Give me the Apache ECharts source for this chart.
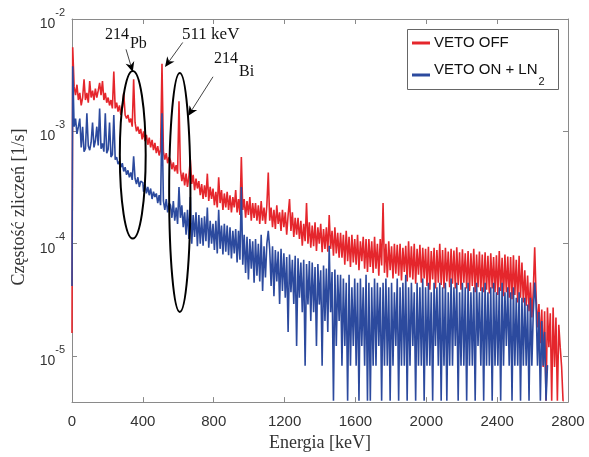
<!DOCTYPE html>
<html><head><meta charset="utf-8">
<script src="https://cdn.jsdelivr.net/npm/echarts@6/dist/echarts.min.js"></script>
<style>html,body{margin:0;padding:0;background:#fff}#c{width:589px;height:457px}</style>
</head><body><div id="c"></div>
<script>
// ---- data (rates in 1/s, one value per 8 keV bin starting at 0 keV) ----
const binWidthKeV = 8;
const seriesNames = ['VETO OFF', 'VETO ON + LN2'];

const vetoOffRate = [
1.6e-5,5.6e-3,2.5e-3,2.1e-3,2.6e-3,1.9e-3,2.2e-3,1.7e-3,2.0e-3,2.9e-3,
1.9e-3,2.2e-3,1.8e-3,2.8e-3,2.0e-3,2.3e-3,1.9e-3,2.4e-3,2.0e-3,2.3e-3,
2.7e-3,2.1e-3,2.8e-3,1.9e-3,2.2e-3,1.8e-3,2.0e-3,1.7e-3,1.9e-3,1.6e-3,
3.4e-3,1.6e-3,1.8e-3,1.5e-3,1.7e-3,1.4e-3,1.6e-3,2.2e-3,1.4e-3,1.3e-3,
1.4e-3,1.2e-3,1.3e-3,1.1e-3,2.9e-3,1.2e-3,1.0e-3,1.1e-3,9.5e-4,1.05e-3,
8.5e-4,1.0e-3,8.2e-4,9.3e-4,7.6e-4,8.8e-4,7.2e-4,8.4e-4,6.8e-4,7.9e-4,
6.4e-4,7.4e-4,6.1e-4,6.9e-4,4.0e-3,6.6e-4,5.6e-4,6.4e-4,5.2e-4,5.9e-4,
5.5e-4,4.6e-4,5.3e-4,4.4e-4,5.0e-4,4.2e-4,1.85e-3,4.6e-4,3.6e-4,4.3e-4,
3.3e-4,4.2e-4,3.2e-4,4.0e-4,5.6e-4,3.4e-4,4.1e-4,3.0e-4,3.8e-4,3.1e-4,
3.6e-4,2.7e-4,3.4e-4,2.5e-4,3.3e-4,2.6e-4,4.2e-4,2.4e-4,3.2e-4,2.5e-4,
3.1e-4,2.2e-4,2.9e-4,2.1e-4,3.9e-4,2.3e-4,3.0e-4,2.0e-4,2.8e-4,2.1e-4,
2.9e-4,2.0e-4,2.7e-4,1.9e-4,2.6e-4,2.1e-4,3.0e-4,1.9e-4,2.5e-4,1.8e-4,
5.9e-4,2.0e-4,2.5e-4,1.7e-4,2.4e-4,1.8e-4,2.6e-4,1.6e-4,2.3e-4,1.7e-4,
2.3e-4,1.6e-4,2.2e-4,1.5e-4,2.4e-4,1.6e-4,2.1e-4,1.5e-4,2.2e-4,4.3e-4,
1.6e-4,2.1e-4,1.4e-4,2.0e-4,1.35e-4,2.2e-4,1.5e-4,1.9e-4,1.3e-4,2.0e-4,
1.4e-4,1.9e-4,1.2e-4,1.8e-4,2.5e-4,1.3e-4,1.9e-4,1.15e-4,1.7e-4,1.2e-4,
1.7e-4,1.1e-4,1.6e-4,9.6e-5,1.5e-4,1.05e-4,2.3e-4,1.0e-4,1.55e-4,9.2e-5,
1.45e-4,9.5e-5,1.55e-4,8.6e-5,1.4e-4,1.0e-4,1.5e-4,8.4e-5,1.35e-4,9.0e-5,
1.4e-4,8.5e-5,1.8e-4,9.0e-5,1.3e-4,7.8e-5,1.4e-4,8.2e-5,1.25e-4,7.5e-5,
1.25e-4,7.5e-5,1.2e-4,6.5e-5,1.3e-4,7.0e-5,1.15e-4,6.2e-5,1.2e-4,6.8e-5,
1.1e-4,6.5e-5,1.2e-4,5.8e-5,1.05e-4,7.0e-5,1.15e-4,6.0e-5,1.1e-4,5.6e-5,
1.1e-4,6.2e-5,1.05e-4,5.5e-5,1.15e-4,6.0e-5,1.0e-4,5.2e-5,1.1e-4,6.4e-5,
2.3e-4,5.5e-5,1.0e-4,5.0e-5,1.05e-4,5.8e-5,9.5e-5,4.9e-5,1.0e-4,5.4e-5,
9.8e-5,5.2e-5,1.0e-4,4.7e-5,9.2e-5,5.6e-5,9.6e-5,4.6e-5,1.05e-4,5.0e-5,
9.5e-5,4.8e-5,1.0e-4,4.4e-5,9.0e-5,5.3e-5,9.8e-5,4.5e-5,9.2e-5,4.9e-5,
9.0e-5,4.2e-5,9.4e-5,3.9e-5,8.6e-5,4.8e-5,9.2e-5,4.0e-5,8.8e-5,4.5e-5,
1.0e-4,4.3e-5,8.8e-5,4.0e-5,9.2e-5,4.6e-5,8.5e-5,4.1e-5,9.0e-5,4.4e-5,
8.7e-5,4.0e-5,9.3e-5,4.3e-5,8.4e-5,3.9e-5,8.9e-5,4.5e-5,8.2e-5,4.0e-5,
8.6e-5,3.8e-5,8.2e-5,4.2e-5,9.0e-5,3.7e-5,8.0e-5,4.1e-5,8.5e-5,3.8e-5,
8.0e-5,3.7e-5,8.4e-5,3.9e-5,7.8e-5,3.6e-5,8.2e-5,4.0e-5,7.6e-5,3.7e-5,
7.9e-5,3.5e-5,8.6e-5,3.8e-5,7.5e-5,3.4e-5,8.0e-5,3.7e-5,7.7e-5,3.3e-5,
7.6e-5,3.2e-5,7.9e-5,3.5e-5,7.2e-5,3.0e-5,7.8e-5,3.3e-5,6.8e-5,3.0e-5,
5.8e-5,2.8e-5,5.2e-5,2.5e-5,4.5e-5,2.2e-5,3.8e-5,9.3e-5,3.4e-5,1.8e-5,
2.9e-5,1.3e-5,2.6e-5,8e-6,2.5e-5,4e-6,2.7e-5,1.2e-5,2.4e-5,4e-6,
2.7e-5,8e-6,2.2e-5,4e-6,1.9e-5,1.2e-5,8e-6,4e-6
];

const vetoOnRate = [
4.2e-5,3.8e-3,1.1e-3,1.3e-3,9.5e-4,1.1e-3,1.3e-3,7.2e-4,1.1e-3,6.6e-4,
7.0e-4,1.45e-3,7.4e-4,6.8e-4,8.0e-4,1.2e-3,7.2e-4,8.2e-4,1.1e-3,7.5e-4,
1.6e-3,7.0e-4,7.8e-4,6.6e-4,1.45e-3,6.4e-4,6.9e-4,1.2e-3,5.9e-4,6.2e-4,
1.4e-3,5.6e-4,5.9e-4,5.1e-4,5.4e-4,4.8e-4,5.2e-4,4.4e-4,4.8e-4,4.1e-4,
4.5e-4,3.9e-4,4.3e-4,3.7e-4,6.0e-4,3.8e-4,3.4e-4,3.9e-4,3.2e-4,3.6e-4,
3.5e-4,2.9e-4,3.4e-4,2.8e-4,3.2e-4,2.7e-4,3.1e-4,2.5e-4,2.9e-4,2.6e-4,
2.8e-4,2.3e-4,2.7e-4,2.2e-4,1.45e-3,2.4e-4,2.0e-4,2.5e-4,1.9e-4,2.3e-4,
2.2e-4,1.7e-4,2.4e-4,1.6e-4,2.1e-4,1.5e-4,3.2e-4,1.7e-4,2.2e-4,1.4e-4,
1.9e-4,1.2e-4,2.0e-4,1.1e-4,2.6e-4,1.0e-4,1.8e-4,1.15e-4,1.9e-4,9.5e-5,
1.8e-4,1.0e-4,1.7e-4,9.6e-5,1.75e-4,1.05e-4,2.1e-4,9.2e-5,1.6e-4,1.0e-4,
1.5e-4,8.8e-5,1.6e-4,8.2e-5,2.0e-4,9.0e-5,1.45e-4,8.0e-5,1.5e-4,8.5e-5,
1.45e-4,7.9e-5,1.4e-4,7.4e-5,1.3e-4,8.2e-5,1.35e-4,6.8e-5,1.3e-4,7.2e-5,
3.2e-4,6.5e-5,1.2e-4,5.5e-5,1.15e-4,4.8e-5,1.1e-4,6.0e-5,1.05e-4,4.5e-5,
1.1e-4,5.2e-5,1.0e-4,4.6e-5,1.2e-4,3.8e-5,9.5e-5,5.0e-5,1.0e-4,1.3e-4,
9.0e-5,4.2e-5,9.5e-5,3.4e-5,8.8e-5,4.6e-5,8.5e-5,2.9e-5,9.0e-5,3.8e-5,
8.2e-5,3.3e-5,7.6e-5,1.64e-5,8.0e-5,3.7e-5,7.2e-5,2.9e-5,7.8e-5,1.23e-5,
7.4e-5,3.3e-5,6.8e-5,2.46e-5,7.2e-5,8.2e-6,6.6e-5,2.87e-5,7.0e-5,2.05e-5,
6.8e-5,2.46e-5,6.2e-5,1.23e-5,6.6e-5,2.87e-5,5.8e-5,8.2e-6,6.4e-5,2.05e-5,
6.0e-5,1.64e-5,9.6e-5,2.46e-5,5.6e-5,4e-6,5.9e-5,1.23e-5,5.3e-5,2.05e-5,
5.3e-5,8.2e-6,4.9e-5,1.23e-5,4.5e-5,4e-6,5.3e-5,8.2e-6,4.1e-5,1.23e-5,
4.9e-5,8.2e-6,4.5e-5,4e-6,4.9e-5,1.23e-5,4.1e-5,8.2e-6,5.3e-5,4e-6,
4.5e-5,4e-6,4.1e-5,8.2e-6,4.9e-5,8.2e-6,4.5e-5,1.23e-5,4.1e-5,4e-6,
4.5e-5,8.2e-6,4.9e-5,8.2e-6,4.1e-5,4e-6,4.5e-5,8.2e-6,3.7e-5,1.23e-5,
4.9e-5,4e-6,4.1e-5,8.2e-6,4.5e-5,8.2e-6,5.3e-5,4e-6,4.1e-5,8.2e-6,
4.5e-5,1.23e-5,3.7e-5,4e-6,4.5e-5,8.2e-6,4.1e-5,8.2e-6,4.9e-5,4e-6,
4.1e-5,8.2e-6,4.5e-5,8.2e-6,3.7e-5,4e-6,4.5e-5,1.23e-5,4.1e-5,8.2e-6,
4.5e-5,4e-6,4.1e-5,8.2e-6,4.5e-5,4e-6,3.7e-5,8.2e-6,4.9e-5,8.2e-6,
4.1e-5,1.23e-5,4.5e-5,4e-6,3.7e-5,8.2e-6,4.5e-5,8.2e-6,4.1e-5,4e-6,
4.5e-5,8.2e-6,3.7e-5,8.2e-6,4.1e-5,4e-6,4.5e-5,1.23e-5,3.7e-5,8.2e-6,
4.1e-5,4e-6,4.5e-5,8.2e-6,3.7e-5,8.2e-6,4.1e-5,4e-6,4.5e-5,8.2e-6,
3.7e-5,8.2e-6,4.1e-5,4e-6,4.5e-5,8.2e-6,3.7e-5,1.23e-5,4.1e-5,8.2e-6,
3.7e-5,4e-6,4.1e-5,8.2e-6,3.3e-5,8.2e-6,3.7e-5,4e-6,3.3e-5,8.2e-6,
3.3e-5,8.2e-6,2.87e-5,4e-6,3.3e-5,8.2e-6,2.46e-5,4.5e-5,2.87e-5,8.2e-6,
2.46e-5,4e-6,2.05e-5,8.2e-6,1.64e-5,4e-6,8.2e-6
];

// annotations, in data coordinates [keV, rate]
const ellipses = [
  { top: [342, 3.45e-3], bottom: [344, 1.11e-4], halfWidthKeV: 73 },
  { top: [607, 3.31e-3], bottom: [610, 2.47e-5], halfWidthKeV: 60 }
];
const arrows = [
  { from: [305, 5.37e-3], to: [343, 3.38e-3] },
  { from: [625, 6.18e-3], to: [525, 3.74e-3] },
  { from: [796, 3.06e-3], to: [655, 1.37e-3] }
];
const notes = [
  { at: [186, 8.51e-3], text: '{a|214}{p|Pb}' },
  { at: [621, 8.6e-3], text: '{k|511 keV}' },
  { at: [802, 5.16e-3], text: '{a|214}{q|Bi}' }
];

// ---- chart ----
const sans = "'Liberation Sans', Arial, Helvetica, sans-serif";
const serif = "'Liberation Serif', 'Times New Roman', serif";
const axisColor = '#8a8a8a';
const redColor = '#e5262c';
const blueColor = '#2c4a9e';

const chart = echarts.init(document.getElementById('c'), null, { renderer: 'canvas' });
const pairs = (rates) => rates.map((v, i) => [i * binWidthKeV, v]);

const frameAxis = {
  axisLine: { show: true, onZero: false, lineStyle: { color: axisColor, width: 1 } },
  axisTick: { show: true, inside: true, length: 5, lineStyle: { color: axisColor } },
  splitLine: { show: false },
  minorTick: { show: false }
};

chart.setOption({
  animation: false,
  backgroundColor: '#fff',
  grid: { left: 72, right: 21, top: 19, bottom: 47, containLabel: false },
  xAxis: [
    Object.assign({
      type: 'value', min: 0, max: 2800, interval: 400, position: 'bottom',
      axisLabel: { margin: 12, fontFamily: sans, fontSize: 15, color: '#333',
        formatter: (v) => String(v) },
      name: 'Energia [keV]', nameLocation: 'middle', nameGap: 28,
      nameTextStyle: { fontFamily: serif, fontSize: 18, color: '#333' }
    }, frameAxis),
    Object.assign({
      type: 'value', min: 0, max: 2800, interval: 400, position: 'top',
      axisLabel: { show: false }
    }, frameAxis)
  ],
  yAxis: [
    Object.assign({
      type: 'log', logBase: 10, min: 3.89e-6, max: 1e-2, position: 'left',
      axisLabel: {
        margin: 7,
        formatter: (v) => {
          const l = Math.log10(v), e = Math.round(l);
          if (Math.abs(l - e) > 1e-6) return '';
          return '{b|10}{s|' + e + '}';
        },
        rich: {
          b: { fontFamily: sans, fontSize: 14, color: '#333', lineHeight: 24, verticalAlign: 'bottom' },
          s: { fontFamily: sans, fontSize: 11, color: '#333', lineHeight: 12, verticalAlign: 'top' }
        }
      }
    }, frameAxis),
    Object.assign({
      type: 'log', logBase: 10, min: 3.89e-6, max: 1e-2, position: 'right',
      axisLabel: { show: false }
    }, frameAxis)
  ],
  series: [
    { name: seriesNames[0], type: 'line', step: 'middle', data: pairs(vetoOffRate), showSymbol: false, symbol: 'none',
      lineStyle: { color: redColor, width: 1.6 }, itemStyle: { color: redColor }, z: 2, clip: true },
    { name: seriesNames[1], type: 'line', step: 'middle', data: pairs(vetoOnRate), showSymbol: false, symbol: 'none',
      lineStyle: { color: blueColor, width: 1.6 }, itemStyle: { color: blueColor }, z: 3, clip: true }
  ]
});

// ---- annotations placed through the axes ----
const toPx = (p) => chart.convertToPixel({ xAxisIndex: 0, yAxisIndex: 0 }, p);
const graphics = [];
ellipses.forEach((e) => {
  const t = toPx(e.top), b = toPx(e.bottom), r = toPx([e.top[0] + e.halfWidthKeV, e.top[1]]);
  graphics.push({ type: 'ellipse', z: 100, silent: true,
    shape: { cx: (t[0] + b[0]) / 2, cy: (t[1] + b[1]) / 2, rx: r[0] - t[0], ry: (b[1] - t[1]) / 2 },
    style: { fill: null, stroke: '#000', lineWidth: 2 } });
});
arrows.forEach((a) => {
  const s = toPx(a.from), t = toPx(a.to);
  const dx = t[0] - s[0], dy = t[1] - s[1], L = Math.hypot(dx, dy);
  const ux = dx / L, uy = dy / L, nx = -uy, ny = ux;
  const len = 10, hw = 4.5, notch = 7;
  graphics.push({ type: 'line', z: 100, silent: true,
    shape: { x1: s[0], y1: s[1], x2: t[0] - ux * notch, y2: t[1] - uy * notch },
    style: { stroke: '#444', lineWidth: 1 } });
  graphics.push({ type: 'polygon', z: 101, silent: true,
    shape: { points: [
      [t[0], t[1]],
      [t[0] - ux * len + nx * hw, t[1] - uy * len + ny * hw],
      [t[0] - ux * notch, t[1] - uy * notch],
      [t[0] - ux * len - nx * hw, t[1] - uy * len - ny * hw]
    ] },
    style: { fill: '#000' } });
});
notes.forEach((n) => {
  const p = toPx(n.at);
  graphics.push({ type: 'text', z: 102, silent: true, x: p[0], y: p[1],
    style: { text: n.text, fill: '#111', fontFamily: serif, fontSize: 16, align: 'left', verticalAlign: 'top',
      rich: {
        a: { fontFamily: serif, fontSize: 16, fill: '#111', lineHeight: 16, verticalAlign: 'top' },
        k: { fontFamily: serif, fontSize: 17, fill: '#111', lineHeight: 17, verticalAlign: 'top' },
        p: { fontFamily: serif, fontSize: 16, fill: '#111', lineHeight: 16, padding: [9, 0, 0, 1], verticalAlign: 'top' },
        q: { fontFamily: serif, fontSize: 16, fill: '#111', lineHeight: 16, padding: [13, 0, 0, 1], verticalAlign: 'top' }
      } } });
});

// ---- y-axis title ----
graphics.push({ type: 'text', z: 50, silent: true, x: 19, y: 207, rotation: Math.PI / 2,
  style: { text: 'Częstość zliczeń [1/s]', fontFamily: serif, fontSize: 18, fill: '#333', align: 'center', verticalAlign: 'middle' } });

// ---- legend box (upper right of the plot) ----
const gridRight = 589 - 21, gridTop = 19;
const lg = { x: gridRight - 161, y: gridTop + 10, w: 151, h: 60 };
graphics.push({ type: 'rect', z: 110, silent: true, shape: { x: lg.x + 0.5, y: lg.y + 0.5, width: lg.w, height: lg.h },
  style: { fill: '#fff', stroke: '#666', lineWidth: 1 } });
[[redColor, 14, 7.5, '{t|' + seriesNames[0] + '}'], [blueColor, 46, 12.5, '{t|VETO ON + LN}{s|2}']].forEach(([col, dy, up, txt]) => {
  graphics.push({ type: 'line', z: 111, silent: true, shape: { x1: lg.x + 5, y1: lg.y + dy, x2: lg.x + 23, y2: lg.y + dy },
    style: { stroke: col, lineWidth: 3 } });
  graphics.push({ type: 'text', z: 111, silent: true, x: lg.x + 27, y: lg.y + dy - up,
    style: { text: txt, fill: '#111', align: 'left', verticalAlign: 'top',
      rich: {
        t: { fontFamily: sans, fontSize: 15, fill: '#111', lineHeight: 17, verticalAlign: 'top' },
        s: { fontFamily: sans, fontSize: 11, fill: '#111', lineHeight: 12, padding: [14, 0, 0, 1], verticalAlign: 'top' }
      } } });
});
chart.setOption({ graphic: graphics });
</script></body></html>
